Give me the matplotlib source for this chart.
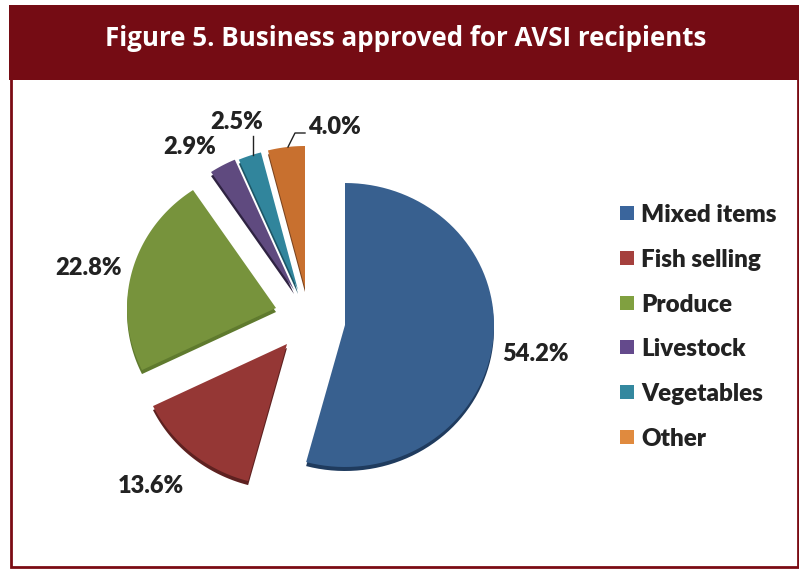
import matplotlib.pyplot as plt
from matplotlib.patches import Rectangle
import numpy as np

categories = ['Mixed items', 'Fish selling', 'Produce', 'Livestock', 'Vegetables', 'Other']
values = [54.2, 13.6, 22.8, 2.9, 2.5, 4.0]
value_labels = ['54.2%', '13.6%', '22.8%', '2.9%', '2.5%', '4.0%']
colors = ['#38608f', '#953735', '#77933c', '#5f4a7f', '#31859c', '#c8702f']
dark_colors = ['#1f3b5e', '#5e2120', '#5f7a2e', '#2f2342', '#1d5666', '#7a4420']
legend_colors = ['#3a659c', '#a5403d', '#80a040', '#644a8c', '#34889f', '#e08a3e']
title = 'Figure 5. Business approved for AVSI recipients'

W, H = 799, 569
plt.rcParams['font.family'] = ['Lato', 'DejaVu Sans']

fig = plt.figure(figsize=(W / 100, H / 100), dpi=100)
ax = fig.add_axes([0, 0, 1, 1])
ax.set_xlim(0, W)
ax.set_ylim(H, 0)
ax.axis('off')

# frame and header band
ax.add_patch(Rectangle((11, 30), 787, 537, fc='white', ec='#7b0c14', lw=2))
ax.add_patch(Rectangle((9, 5), 790, 75, fc='#750c14', ec='none'))
ax.text(406, 38, title, color='white', fontsize=18.6, fontweight='bold', ha='center', va='center',
        family=['Open Sans', 'DejaVu Sans'])

# pie is flattened a bit, so wedges are drawn in a unit circle then scaled
cx, cy = 310, 322
rx, ry = 149, 142
# where each slice's apex sits relative to the centre, pixels
offsets = [(35, 3), (-23, 22), (-34, -14), (-16, -32), (-12, -32), (-5, -34)]
depth = 4

def wedge_verts(start, end, ox, oy):
    t = np.radians(np.linspace(start, end, 80))
    xs = cx + ox + rx * np.cos(t)
    ys = cy + oy - ry * np.sin(t)
    return np.r_[cx + ox, xs, cx + ox], np.r_[cy + oy, ys, cy + oy]

# clockwise from the top
angle = 90
for i in range(len(values)):
    sweep = values[i] / sum(values) * 360
    start, end = angle - sweep, angle
    xs, ys = wedge_verts(start, end, *offsets[i])
    ax.fill(xs, ys + depth, color=dark_colors[i], lw=0)
    ax.fill(xs, ys, color=colors[i], lw=0)
    angle = start

# data labels
label_pos = [(535, 354), (151, 486), (89, 268), (190, 147), (237, 122), (334, 127)]
for txt, (x, y) in zip(value_labels, label_pos):
    ax.text(x, y, txt, fontsize=17, fontweight='heavy', color='#222222', ha='center', va='center')

# leader lines
ax.plot([253, 253], [136, 155], color='#222222', lw=1)
ax.plot([305, 295, 288], [133, 133, 147], color='#222222', lw=1)

# legend
for i, name in enumerate(categories):
    y = 213 + i * 44.8
    ax.add_patch(Rectangle((620, y - 7), 14, 14, fc=legend_colors[i], ec='none'))
    ax.text(641, y + 2, name, fontsize=17.4, fontweight='heavy', color='#222222', ha='left', va='center')

fig.savefig('out.png', dpi=100)
